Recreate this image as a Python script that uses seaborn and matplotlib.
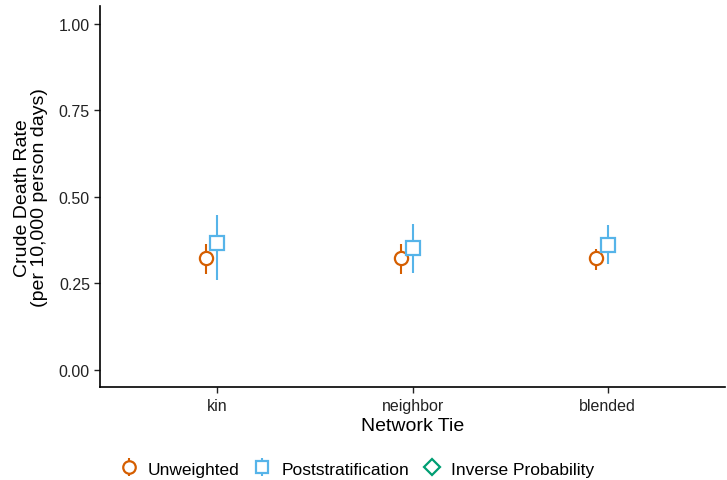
import numpy as np
import pandas as pd
import seaborn as sns
import matplotlib.pyplot as plt
from matplotlib.lines import Line2D

ties = ["kin", "neighbor", "blended"]
methods = ["Unweighted", "Poststratification", "Inverse Probability"]

unweighted_est = [0.322, 0.322, 0.324]
unweighted_lo = [0.277, 0.277, 0.287]
unweighted_hi = [0.364, 0.362, 0.348]

poststrat_est = [0.367, 0.353, 0.361]
poststrat_lo = [0.259, 0.281, 0.305]
poststrat_hi = [0.447, 0.422, 0.417]

# inverse probability estimates are missing -> only shows in legend
ipw_est = [np.nan, np.nan, np.nan]
ipw_lo = [np.nan, np.nan, np.nan]
ipw_hi = [np.nan, np.nan, np.nan]

df = pd.DataFrame({
    "tie": ties * 3,
    "method": np.repeat(methods, 3),
    "est": unweighted_est + poststrat_est + ipw_est,
    "lo": unweighted_lo + poststrat_lo + ipw_lo,
    "hi": unweighted_hi + poststrat_hi + ipw_hi,
})

colors = {"Unweighted": "#D55E00", "Poststratification": "#56B4E9",
          "Inverse Probability": "#009E73"}
markers = {"Unweighted": "o", "Poststratification": "s",
           "Inverse Probability": "D"}
offsets = {"Unweighted": -0.06, "Poststratification": 0.0,
           "Inverse Probability": 0.06}

sns.set_theme(style="ticks")
plt.rcParams["font.family"] = ["Liberation Sans", "DejaVu Sans"]

fig, ax = plt.subplots(figsize=(7.27, 4.81), dpi=100)
fig.subplots_adjust(left=0.138, right=0.997, top=0.985, bottom=0.193)

handles = []
for m in methods:
    sub = df[df["method"] == m]
    x = np.array([ties.index(t) for t in sub["tie"]]) + offsets[m]
    y = sub["est"].values
    err = np.vstack([y - sub["lo"].values, sub["hi"].values - y])
    ax.errorbar(x, y, yerr=err, fmt="none", ecolor=colors[m], elinewidth=1.5,
                capsize=0, zorder=2)
    ms = 9.5 if m != "Inverse Probability" else 8.5
    ax.plot(x, y, linestyle="none", marker=markers[m], markersize=ms,
            markerfacecolor="white", markeredgecolor=colors[m],
            markeredgewidth=1.6, zorder=3)
    mk = Line2D([], [], linestyle="none", marker=markers[m], markersize=ms - 0.5,
                markerfacecolor="white", markeredgecolor=colors[m],
                markeredgewidth=1.6)
    if m != "Inverse Probability":
        bar = Line2D([], [], linestyle="none", marker="|", markersize=13,
                     markeredgewidth=1.5, color=colors[m])
        handles.append((bar, mk))
    else:
        handles.append(mk)

ax.set_xlim(-0.6, 2.6)
ax.set_ylim(-0.05, 1.05)
ax.set_xticks(range(3))
ax.set_xticklabels(ties)
ax.set_yticks([0, 0.25, 0.5, 0.75, 1.0])
ax.set_yticklabels(["0.00", "0.25", "0.50", "0.75", "1.00"])
ax.tick_params(labelsize=11.5, colors="#222222", length=4, width=1)
for lab in ax.get_xticklabels() + ax.get_yticklabels():
    lab.set_color("#222222")
ax.set_xlabel("Network Tie", fontsize=14, labelpad=3, color="black")
ax.set_ylabel("Crude Death Rate\n(per 10,000 person days)", fontsize=14,
              labelpad=8, linespacing=1.0, color="black")
sns.despine(ax=ax)
for s in ["left", "bottom"]:
    ax.spines[s].set_linewidth(1.2)
    ax.spines[s].set_color("black")

fig.legend(handles=handles, labels=methods, loc="center", ncol=3, frameon=False,
           fontsize=12.5, bbox_to_anchor=(0.49, 0.023), handletextpad=0.5,
           columnspacing=0.7, handlelength=1.2, labelcolor="black")

fig.savefig("out.png", dpi=100)
